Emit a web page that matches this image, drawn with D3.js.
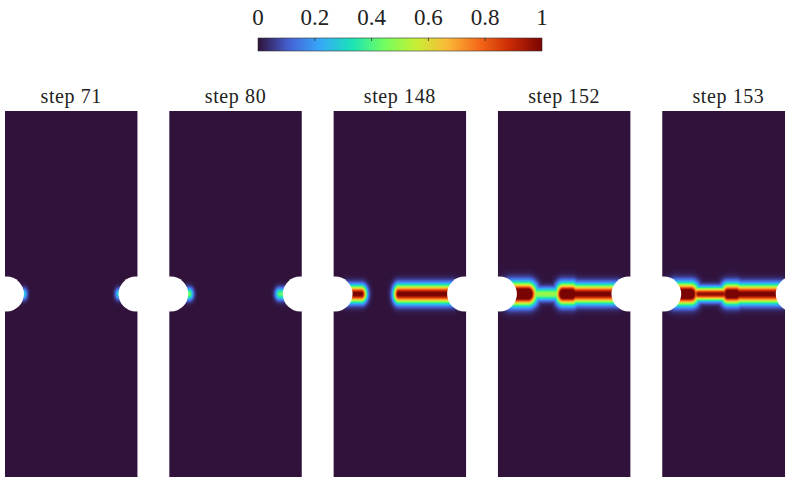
<!DOCTYPE html>
<html>
<head>
<meta charset="utf-8">
<script src="https://cdn.jsdelivr.net/npm/d3@7"></script>
<style>
  body { margin: 0; background: #fff; }
  text { font-family: "Liberation Serif", serif; fill: #222; }
</style>
</head>
<body>
<div id="chart"></div>
<script>
// panel titles
var steps = ["step 71", "step 80", "step 148", "step 152", "step 153"];
// colorbar ticks
var cbTicks = [0, 0.2, 0.4, 0.6, 0.8, 1];
// turbo colormap samples (0 .. 1)
var turboColors = ["#30123b", "#4662d7", "#36aaf9", "#1ae4b6", "#72fe5e",
                   "#c7ef34", "#fbb938", "#f56918", "#c92903", "#7a0403"];

// crack segments in specimen units (width 1): [x0, x1, peak, spreadX, spreadY]
var crack71  = [[0.143, 0.143, 0.30, 0.025, 0.042], [0.857, 0.857, 0.30, 0.025, 0.042]];
var crack80  = [[0.135, 0.150, 0.45, 0.030, 0.045], [0.830, 0.865, 0.42, 0.030, 0.045]];
var crack148 = [[0.100, 0.211, 1.02, 0.038, 0.060], [0.490, 0.900, 1.02, 0.038, 0.067]];
var crack152 = [[0.100, 0.228, 1.25, 0.060, 0.078], [0.287, 0.438, 0.50, 0.035, 0.046],
                [0.490, 0.560, 1.20, 0.050, 0.074], [0.560, 0.900, 1.02, 0.038, 0.067]];
var crack153 = [[0.100, 0.218, 1.20, 0.055, 0.076], [0.270, 0.460, 0.97, 0.035, 0.048],
                [0.495, 0.560, 1.15, 0.050, 0.072], [0.560, 0.900, 1.02, 0.038, 0.067]];
var cracks = [crack71, crack80, crack148, crack152, crack153];

// specimen geometry
var specW = 1, specH = 2.76, notchR = 0.132, notchX = 0.011;

var width = 785, height = 477;
var svg = d3.select("#chart").append("svg")
  .attr("width", width).attr("height", height);

var color = d3.piecewise(d3.interpolateRgb, turboColors);

//Colorbar
var cb = d3.scaleLinear().domain([0, 1]).range([258, 542]);
var grad = svg.append("defs").append("linearGradient").attr("id", "cbgrad");
grad.selectAll("stop").data(d3.range(0, 1.0001, 0.02)).enter().append("stop")
  .attr("offset", function(d) { return d * 100 + "%"; })
  .attr("stop-color", function(d) { return color(d); });

svg.append("rect")
  .attr("x", cb(0)).attr("y", 38)
  .attr("width", cb(1) - cb(0)).attr("height", 13)
  .attr("fill", "url(#cbgrad)")
  .attr("stroke", "#333").attr("stroke-width", 0.6);

svg.append("g").selectAll("line").data(cbTicks.slice(1, -1)).enter().append("line")
  .attr("x1", function(d) { return cb(d); }).attr("x2", function(d) { return cb(d); })
  .attr("y1", 38).attr("y2", 41)
  .attr("stroke", "#333").attr("stroke-width", 0.8);

svg.append("g").selectAll("text").data(cbTicks).enter().append("text")
  .attr("x", function(d) { return cb(d); })
  .attr("y", 25)
  .attr("text-anchor", "middle")
  .attr("font-size", 23)
  .text(function(d) { return d; });

//Panels
var band = d3.scaleBand().domain(steps).range([5, 794.7]).paddingInner(0.194).paddingOuter(0);
var y = d3.scaleLinear().domain([-specH / 2, specH / 2]).range([477, 111]);

// damage value at a specimen point
function damage(segs, xu, yu) {
  var v = 0;
  segs.forEach(function(s) {
    var dx = Math.max(0, s[0] - xu, xu - s[1]) / s[3];
    var dy = yu / s[4];
    v = Math.max(v, s[2] * Math.exp(-(dx * dx + dy * dy)));
  });
  return Math.min(1, v);
}

steps.forEach(function(step, k) {
  var bx = band(step), bw = band.bandwidth();
  var x = d3.scaleLinear().domain([0, specW]).range([bx, bx + bw]);
  var g = svg.append("g").attr("class", "panel");

  // rasterise the field
  var cw = Math.round(bw), ch = Math.round(y(-specH / 2) - y(specH / 2));
  var canvas = document.createElement("canvas");
  canvas.width = cw; canvas.height = ch;
  var ctx = canvas.getContext("2d");
  var img = ctx.createImageData(cw, ch);
  for (var j = 0; j < ch; j++) {
    var yu = y.invert(y(specH / 2) + j + 0.5);
    for (var i = 0; i < cw; i++) {
      var xu = x.invert(bx + (i + 0.5) * bw / cw);
      var c = d3.rgb(color(damage(cracks[k], xu, yu)));
      var p = (j * cw + i) * 4;
      img.data[p] = c.r; img.data[p + 1] = c.g; img.data[p + 2] = c.b; img.data[p + 3] = 255;
    }
  }
  ctx.putImageData(img, 0, 0);

  g.append("image")
    .attr("href", canvas.toDataURL())
    .attr("x", bx).attr("y", y(specH / 2))
    .attr("width", bw).attr("height", ch)
    .attr("preserveAspectRatio", "none");

  // notches
  g.selectAll("circle").data([notchX, specW - notchX]).enter().append("circle")
    .attr("cx", function(d) { return x(d); })
    .attr("cy", y(0))
    .attr("r", x(notchR) - x(0))
    .attr("fill", "#fff");

  g.append("text")
    .attr("x", bx + bw / 2)
    .attr("y", 103)
    .attr("text-anchor", "middle")
    .attr("font-size", 20)
    .attr("letter-spacing", 0.6)
    .text(step);
});
</script>
</body>
</html>
